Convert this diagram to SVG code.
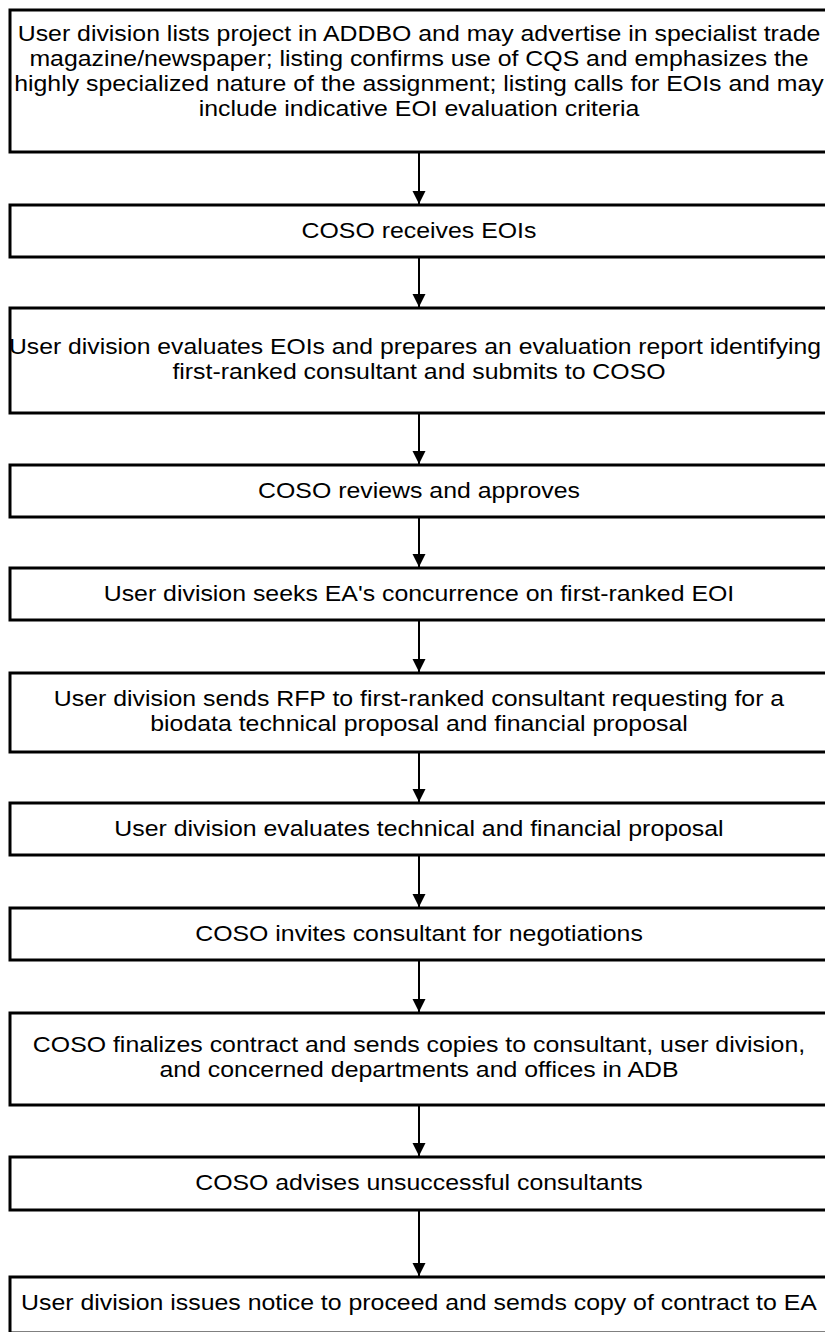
<svg xmlns="http://www.w3.org/2000/svg" width="825" height="1332" viewBox="0 0 825 1332">
<style>
.box{fill:#fff;stroke:#000;stroke-width:3}
.lbl{font-family:"Liberation Sans",Arial,sans-serif;font-size:22px;fill:#000;text-anchor:middle}
.conn{stroke:#000;stroke-width:2;fill:none;marker-end:url(#ah)}
</style>
<defs>
<marker id="ah" markerUnits="userSpaceOnUse" markerWidth="14" markerHeight="14" refX="13" refY="7" orient="auto">
<path d="M0,0.5 L13,7 L0,13.5 Z" fill="#000"/>
</marker>
</defs>
<rect width="825" height="1332" fill="#fff"/>
<g id="connectors">
<line class="conn" x1="419" y1="152" x2="419" y2="204"/>
<line class="conn" x1="419" y1="257" x2="419" y2="307"/>
<line class="conn" x1="419" y1="413" x2="419" y2="464"/>
<line class="conn" x1="419" y1="517" x2="419" y2="567"/>
<line class="conn" x1="419" y1="620" x2="419" y2="672"/>
<line class="conn" x1="419" y1="752" x2="419" y2="802"/>
<line class="conn" x1="419" y1="855" x2="419" y2="907"/>
<line class="conn" x1="419" y1="960" x2="419" y2="1012"/>
<line class="conn" x1="419" y1="1105" x2="419" y2="1156"/>
<line class="conn" x1="419" y1="1210" x2="419" y2="1276"/>
</g>
<g id="n1"><rect class="box" x="10" y="10" width="818" height="142"/>
<g transform="matrix(1.13 0 0 1 -54.47 0)"><text class="lbl" x="419" y="41">User division lists project in ADDBO and may advertise in specialist trade</text><text class="lbl" x="419" y="66">magazine/newspaper; listing confirms use of CQS and emphasizes the</text><text class="lbl" x="419" y="91">highly specialized nature of the assignment; listing calls for EOIs and may</text><text class="lbl" x="419" y="116">include indicative EOI evaluation criteria</text></g></g>
<g id="n2"><rect class="box" x="10" y="205" width="818" height="52"/>
<g transform="matrix(1.13 0 0 1 -54.47 0)"><text class="lbl" x="419" y="238">COSO receives EOIs</text></g></g>
<g id="n3"><rect class="box" x="10" y="308" width="818" height="105"/>
<text class="lbl" x="415" y="354" textLength="812" lengthAdjust="spacingAndGlyphs">User division evaluates EOIs and prepares an evaluation report identifying</text>
<g transform="matrix(1.13 0 0 1 -54.47 0)"><text class="lbl" x="419" y="379">first-ranked consultant and submits to COSO</text></g></g>
<g id="n4"><rect class="box" x="10" y="465" width="818" height="52"/>
<g transform="matrix(1.13 0 0 1 -54.47 0)"><text class="lbl" x="419" y="498">COSO reviews and approves</text></g></g>
<g id="n5"><rect class="box" x="10" y="568" width="818" height="52"/>
<g transform="matrix(1.13 0 0 1 -54.47 0)"><text class="lbl" x="419" y="601">User division seeks EA's concurrence on first-ranked EOI</text></g></g>
<g id="n6"><rect class="box" x="10" y="673" width="818" height="79"/>
<g transform="matrix(1.13 0 0 1 -54.47 0)"><text class="lbl" x="419" y="706">User division sends RFP to first-ranked consultant requesting for a</text><text class="lbl" x="419" y="731">biodata technical proposal and financial proposal</text></g></g>
<g id="n7"><rect class="box" x="10" y="803" width="818" height="52"/>
<g transform="matrix(1.13 0 0 1 -54.47 0)"><text class="lbl" x="419" y="836">User division evaluates technical and financial proposal</text></g></g>
<g id="n8"><rect class="box" x="10" y="908" width="818" height="52"/>
<g transform="matrix(1.13 0 0 1 -54.47 0)"><text class="lbl" x="419" y="941">COSO invites consultant for negotiations</text></g></g>
<g id="n9"><rect class="box" x="10" y="1013" width="818" height="92"/>
<g transform="matrix(1.13 0 0 1 -54.47 0)"><text class="lbl" x="419" y="1052">COSO finalizes contract and sends copies to consultant, user division,</text><text class="lbl" x="419" y="1077">and concerned departments and offices in ADB</text></g></g>
<g id="n10"><rect class="box" x="10" y="1157" width="818" height="53"/>
<g transform="matrix(1.13 0 0 1 -54.47 0)"><text class="lbl" x="419" y="1190">COSO advises unsuccessful consultants</text></g></g>
<g id="n11"><rect class="box" x="10" y="1277" width="818" height="56"/>
<g transform="matrix(1.13 0 0 1 -54.47 0)"><text class="lbl" x="419" y="1310">User division issues notice to proceed and semds copy of contract to EA</text></g></g>
</svg>
